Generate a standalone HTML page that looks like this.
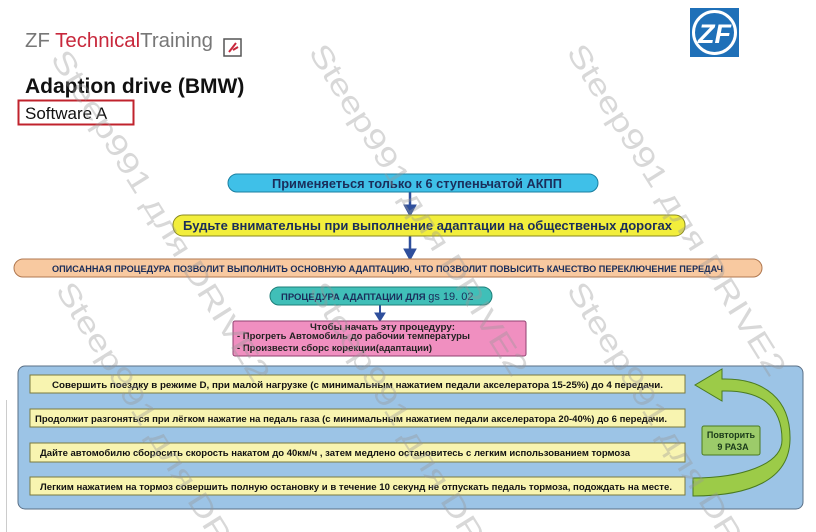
<!DOCTYPE html>
<html><head><meta charset="utf-8"><style>
html,body{margin:0;width:816px;height:532px;background:#fff;overflow:hidden;position:relative;font-family:"Liberation Sans","Noto Sans CJK SC",sans-serif}
.a{position:absolute}
svg{overflow:hidden;display:block}
</style></head><body>
<svg class="a" style="left:0;top:0" width="816" height="532" xmlns="http://www.w3.org/2000/svg" font-family="Liberation Sans, sans-serif">
<text x="25" y="47" font-size="20" fill="#777" textLength="188" lengthAdjust="spacingAndGlyphs">ZF <tspan fill="#c8283c">Technical</tspan>Training</text>
<rect x="224" y="39" width="17" height="17" fill="#fff" stroke="#555" stroke-width="1.5"/>
<path d="M229 52 L236 43 M233 50 L238 47" stroke="#c8283c" stroke-width="2"/>
<rect x="690" y="8" width="49" height="49" fill="#1f70b8"/>
<circle cx="714.5" cy="32.5" r="21" fill="none" stroke="#fff" stroke-width="3"/>
<text x="714.5" y="43" font-size="27" font-weight="bold" fill="#fff" text-anchor="middle" font-style="italic">ZF</text>
<text x="25" y="93" font-size="21" font-weight="bold" fill="#111">Adaption drive (BMW)</text>
<rect x="18.5" y="100.5" width="115" height="24" fill="#fff" stroke="#c0232d" stroke-width="2"/>
<text x="25" y="119" font-size="17" fill="#111">Software A</text>
<line x1="6.5" y1="400" x2="6.5" y2="532" stroke="#ccc"/>
<g fill="#2f4f9c" stroke="#2f4f9c">
<line x1="410" y1="192" x2="410" y2="206" stroke-width="2.5"/><path d="M404 205 L416 205 L410 216Z"/>
<line x1="410" y1="236" x2="410" y2="250" stroke-width="2.5"/><path d="M404 249 L416 249 L410 260Z"/>
<line x1="380" y1="305" x2="380" y2="314" stroke-width="2"/><path d="M375 313 L385 313 L380 321Z"/>
<line x1="358" y1="393" x2="358" y2="401" stroke-width="2.5"/><path d="M352 400 L364 400 L358 409Z"/>
<line x1="358" y1="427" x2="358" y2="435" stroke-width="2.5"/><path d="M352 434 L364 434 L358 443Z"/>
<line x1="358" y1="462" x2="358" y2="469" stroke-width="2.5"/><path d="M352 468 L364 468 L358 477Z"/>
</g>
<rect x="228" y="174" width="370" height="18" rx="9" fill="#3fc0e8" stroke="#1b7fa0"/>
<text x="272" y="188" font-size="12.5" font-weight="bold" fill="#1a2d5a" textLength="290" lengthAdjust="spacingAndGlyphs">Применяеться только к 6 ступеньчатой АКПП</text>
<rect x="173" y="215" width="512" height="21" rx="10" fill="#f2ee3c" stroke="#8a8a20"/>
<text x="183" y="230" font-size="12.5" font-weight="bold" fill="#1a2d5a" textLength="489" lengthAdjust="spacingAndGlyphs">Будьте внимательны при выполнение адаптации на общественых дорогах</text>
<rect x="14" y="259" width="748" height="18" rx="9" fill="#f8c9a0" stroke="#b07850"/>
<text x="52" y="272" font-size="9.5" font-weight="bold" fill="#1a2d5a" textLength="671" lengthAdjust="spacingAndGlyphs">ОПИСАННАЯ ПРОЦЕДУРА ПОЗВОЛИТ ВЫПОЛНИТЬ ОСНОВНУЮ АДАПТАЦИЮ, ЧТО ПОЗВОЛИТ ПОВЫСИТЬ КАЧЕСТВО ПЕРЕКЛЮЧЕНИЕ ПЕРЕДАЧ</text>
<rect x="270" y="287" width="222" height="18" rx="9" fill="#40bfb8" stroke="#1e7f7a"/>
<text x="281" y="300" font-size="9.5" font-weight="bold" fill="#1a2d5a">ПРОЦЕДУРА АДАПТАЦИИ ДЛЯ <tspan font-weight="normal" font-size="11">gs 19. 02</tspan></text>
<rect x="233" y="321" width="293" height="35" rx="2" fill="#f08fc0" stroke="#904070"/>
<text x="310" y="330" font-size="9" font-weight="bold" fill="#222" textLength="145" lengthAdjust="spacingAndGlyphs">Чтобы начать эту процедуру:</text>
<text x="237" y="339" font-size="9" font-weight="bold" fill="#222" textLength="233" lengthAdjust="spacingAndGlyphs">- Прогреть Автомобиль до рабочии температуры</text>
<text x="237" y="351" font-size="9" font-weight="bold" fill="#222" textLength="195" lengthAdjust="spacingAndGlyphs">- Произвести сборс корекции(адаптации)</text>
<rect x="18" y="366" width="785" height="143" rx="7" fill="#9cc4e6" stroke="#5a6f86"/>
<g stroke="#7a7a40" fill="#f8f4b0">
<rect x="30" y="375" width="655" height="18"/>
<rect x="30" y="409" width="655" height="18"/>
<rect x="30" y="443" width="655" height="19"/>
<rect x="30" y="477" width="655" height="18"/>
</g>
<g font-size="9.5" fill="#111" font-weight="bold">
<text x="52" y="388" textLength="611" lengthAdjust="spacingAndGlyphs">Совершить поездку в режиме D,  при малой нагрузке (с минимальным нажатием педали акселератора 15-25%) до 4 передачи.</text>
<text x="35" y="422" textLength="632" lengthAdjust="spacingAndGlyphs">Продолжит разгоняться при лёгком нажатие на педаль газа (с минимальным нажатием педали акселератора 20-40%) до 6 передачи.</text>
<text x="40" y="456" textLength="590" lengthAdjust="spacingAndGlyphs">Дайте автомобилю сборосить скорость накатом до 40км/ч , затем медлено остановитесь с легким использованием тормоза</text>
<text x="40" y="490" textLength="632" lengthAdjust="spacingAndGlyphs">Легким нажатием на тормоз совершить полную остановку и в течение 10 секунд не отпускать педаль тормоза, подождать на месте.</text>
</g>
<path d="M693 478 C740 478 782 465 782 440 C782 405 760 390 722 391 L722 401 L695 385 L722 369 L722 379 C765 378 791 400 790 440 C789 480 750 496 693 496 Z" fill="#9ccb48" stroke="#4a7a20"/>
<rect x="702" y="426" width="58" height="29" rx="2" fill="#9ccb6a" stroke="#4a7a20"/>
<text x="731" y="438" font-size="9" font-weight="bold" fill="#1a3a1a" text-anchor="middle">Повторить</text>
<text x="733" y="450" font-size="9" font-weight="bold" fill="#1a3a1a" text-anchor="middle">9 РАЗА</text>
<g font-size="30" fill="#999" fill-opacity="0.38">
<text transform="translate(50,58) rotate(58)" textLength="385" lengthAdjust="spacingAndGlyphs">Steep991 для DRIVE2</text>
<text transform="translate(308,52) rotate(58)" textLength="385" lengthAdjust="spacingAndGlyphs">Steep991 для DRIVE2</text>
<text transform="translate(566,52) rotate(58)" textLength="385" lengthAdjust="spacingAndGlyphs">Steep991 для DRIVE2</text>
<text transform="translate(55,290) rotate(58)" textLength="385" lengthAdjust="spacingAndGlyphs">Steep991 для DRIVE2</text>
<text transform="translate(308,290) rotate(58)" textLength="385" lengthAdjust="spacingAndGlyphs">Steep991 для DRIVE2</text>
<text transform="translate(566,290) rotate(58)" textLength="385" lengthAdjust="spacingAndGlyphs">Steep991 для DRIVE2</text>
</g>
</svg>
</body></html>
